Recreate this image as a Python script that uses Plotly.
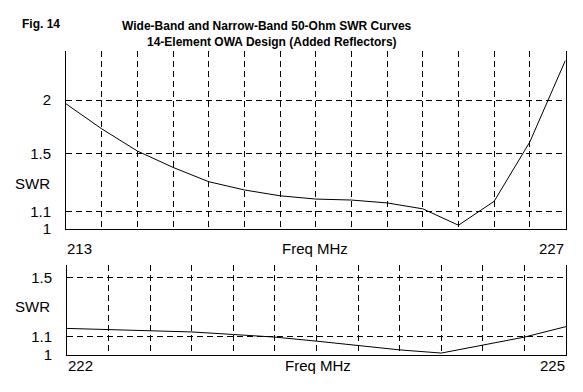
import plotly.graph_objects as go

# ---- data ----
wide_freq = [213, 214, 215, 216, 217, 218, 219, 220, 221, 222, 223, 224, 225, 226, 227]
wide_swr = [1.96, 1.714, 1.521, 1.393, 1.290, 1.234, 1.196, 1.175, 1.169, 1.151, 1.115, 1.021, 1.161, 1.597, 2.478]

narrow_freq = [222.0, 222.25, 222.5, 222.75, 223.0, 223.25, 223.5, 223.75, 224.0, 224.25, 224.5, 224.75, 225.0]
narrow_swr = [1.148, 1.141, 1.135, 1.127, 1.112, 1.097, 1.074, 1.051, 1.026, 1.009, 1.053, 1.097, 1.159]

wide_xgrid = [214, 215, 216, 217, 218, 219, 220, 221, 222, 223, 224, 225, 226]
narrow_xgrid = [222.25, 222.5, 222.75, 223.0, 223.25, 223.5, 223.75, 224.0, 224.25, 224.5, 224.75]
wide_yticks = [1, 1.1, 1.5, 2]
wide_yticktext = ["1", "1.1", "1.5", "2"]
narrow_yticks = [1, 1.1, 1.5]
narrow_yticktext = ["1", "1.1", "1.5"]

title1 = "Wide-Band and Narrow-Band 50-Ohm SWR Curves"
title2 = "14-Element OWA Design (Added Reflectors)"
fig_label = "Fig. 14"

W, H = 583, 392
FONT = "Liberation Sans, Arial, sans-serif"

def px(x):
    return x / W

def py(y):
    return 1 - y / H

fig = go.Figure()
fig.add_trace(go.Scatter(x=wide_freq, y=wide_swr, mode="lines",
                         line=dict(color="black", width=1), xaxis="x", yaxis="y",
                         showlegend=False, hoverinfo="skip"))
fig.add_trace(go.Scatter(x=narrow_freq, y=narrow_swr, mode="lines",
                         line=dict(color="black", width=1), xaxis="x2", yaxis="y2",
                         showlegend=False, hoverinfo="skip"))

grid = dict(showgrid=True, gridcolor="black", gridwidth=1, griddash="6px,4px")
common_x = dict(showline=True, linecolor="black", linewidth=1, mirror=False,
                showticklabels=False, ticks="", zeroline=False, **grid)
common_y = dict(type="log", showline=True, linecolor="black", linewidth=1, mirror=True,
                ticks="", zeroline=False, ticklabelstandoff=11,
                tickfont=dict(family=FONT, size=15, color="black"), **grid)

fig.update_layout(
    width=W, height=H,
    margin=dict(l=0, r=0, t=0, b=0),
    paper_bgcolor="white", plot_bgcolor="white",
    xaxis=dict(domain=[px(58), px(557.5)], range=[213, 227], anchor="y",
               tickmode="array", tickvals=wide_xgrid, **common_x),
    yaxis=dict(domain=[py(225.7), py(44)], range=[0, 0.4153], anchor="x",
               tickmode="array", tickvals=wide_yticks, ticktext=wide_yticktext, **common_y),
    xaxis2=dict(domain=[px(59), px(558)], range=[222, 225], anchor="y2",
                tickmode="array", tickvals=narrow_xgrid, **common_x),
    yaxis2=dict(domain=[py(354), py(262.7)], range=[0, 0.2034], anchor="x2",
                tickmode="array", tickvals=narrow_yticks, ticktext=narrow_yticktext, **common_y),
)

txt = dict(family=FONT, size=15, color="black")
bold = dict(family=FONT, size=12, color="black")
ann = [
    dict(text="<b>" + fig_label + "</b>", x=px(12), y=py(16), xanchor="left", yanchor="middle", font=bold),
    dict(text="<b>" + title1 + "</b>", x=px(259), y=py(18), xanchor="center", yanchor="middle", font=bold),
    dict(text="<b>" + title2 + "</b>", x=px(263.5), y=py(35), xanchor="center", yanchor="middle", font=bold),
    dict(text="SWR", x=px(44), y=py(179), xanchor="right", yanchor="middle", font=txt),
    dict(text="213", x=px(57), y=py(245), xanchor="left", yanchor="middle", font=txt),
    dict(text="Freq MHz", x=px(307), y=py(245), xanchor="center", yanchor="middle", font=txt),
    dict(text="227", x=px(558), y=py(245), xanchor="right", yanchor="middle", font=txt),
    dict(text="SWR", x=px(44), y=py(305), xanchor="right", yanchor="middle", font=txt),
    dict(text="222", x=px(58), y=py(365), xanchor="left", yanchor="middle", font=txt),
    dict(text="Freq MHz", x=px(310), y=py(365), xanchor="center", yanchor="middle", font=txt),
    dict(text="225", x=px(559), y=py(365), xanchor="right", yanchor="middle", font=txt),
]
for a in ann:
    a.update(xref="paper", yref="paper", showarrow=False)
fig.update_layout(annotations=ann)

fig.write_html("out.html")
